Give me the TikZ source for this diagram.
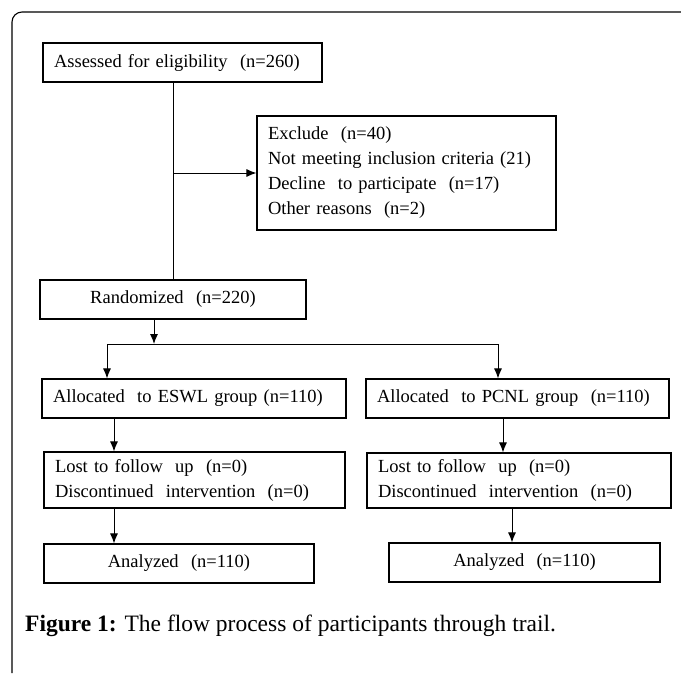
\documentclass[tikz,border=0pt]{standalone}
\usepackage{fontspec}
\setmainfont{Liberation Serif}
\usetikzlibrary{arrows.meta}

\tikzset{
  box/.style={draw, line width=1.1pt, inner xsep=11pt, inner ysep=0pt, minimum height=39pt, align=left, font=\fontsize{18.5}{25}\selectfont},
  mid/.style={box, align=center},
  link/.style={line width=1pt},
  tip/.style={link, -{Latex[length=10pt,width=8pt]}}
}

\begin{document}
\begin{tikzpicture}[x=1pt,y=-1pt]
\useasboundingbox (0,0) rectangle (681,673);

% frame
\draw [line width=1.1pt, rounded corners=10pt] (12,673) -- (12,12) -- (681,12);

\node[box, text width=257pt] (assess) at (182.5,62.5) {Assessed for eligibility \ (n=260)};
\node[box, text width=277pt, minimum height=114pt] (exclude) at (406.5,173) {Exclude \ (n=40)\\Not meeting inclusion criteria (21)\\Decline \ to participate \ (n=17)\\Other reasons \ (n=2)};
\node[mid, text width=244pt] (random) at (173,299.5) {Randomized \ (n=220)};

\node[box, text width=282pt] (eswl) at (194,398.5) {Allocated \ to ESWL group (n=110)};
\node[box, text width=281pt] (pcnl) at (517.5,398.5) {Allocated \ to PCNL group \ (n=110)};
\node[box, text width=279pt, minimum height=56pt] (lostA) at (194.5,480) {Lost to follow \ up \ (n=0)\\Discontinued \ intervention \ (n=0)};
\node[box, text width=282pt, minimum height=55pt] (lostB) at (519,480.5) {Lost to follow \ up \ (n=0)\\Discontinued \ intervention \ (n=0)};
\node[mid, text width=248pt] (anaA) at (179,563.5) {Analyzed \ (n=110)};
\node[mid, text width=249pt] (anaB) at (524.5,562.5) {Analyzed \ (n=110)};

% split
\coordinate (fork) at (154,344);
\coordinate (forkL) at (107,344);
\coordinate (forkR) at (498,344);

\node[anchor=base west, inner sep=0pt, font=\fontsize{23.5}{28}\selectfont] (caption) at (25,631) {\textbf{Figure 1:} The flow process of participants through trail.};

\draw [link] (assess.south -| random.north) -- (random.north);
\draw [tip] (exclude.west -| random.north) -- (exclude.west);
\draw [tip] (random.south -| fork) -- (fork);
\draw [link] (forkL) -- (forkR);
\draw [tip] (forkL) -- (forkL |- eswl.north);
\draw [tip] (forkR) -- (forkR |- pcnl.north);
\draw [tip] ([xshift=-80pt]eswl.south) -- ([xshift=-80pt]eswl.south |- lostA.north);
\draw [tip] ([xshift=-14.5pt]pcnl.south) -- ([xshift=-14.5pt]pcnl.south |- lostB.north);
\draw [tip] ([xshift=-80.5pt]lostA.south) -- ([xshift=-80.5pt]lostA.south |- anaA.north);
\draw [tip] ([xshift=-7pt]lostB.south) -- ([xshift=-7pt]lostB.south |- anaB.north);
\end{tikzpicture}
\end{document}
